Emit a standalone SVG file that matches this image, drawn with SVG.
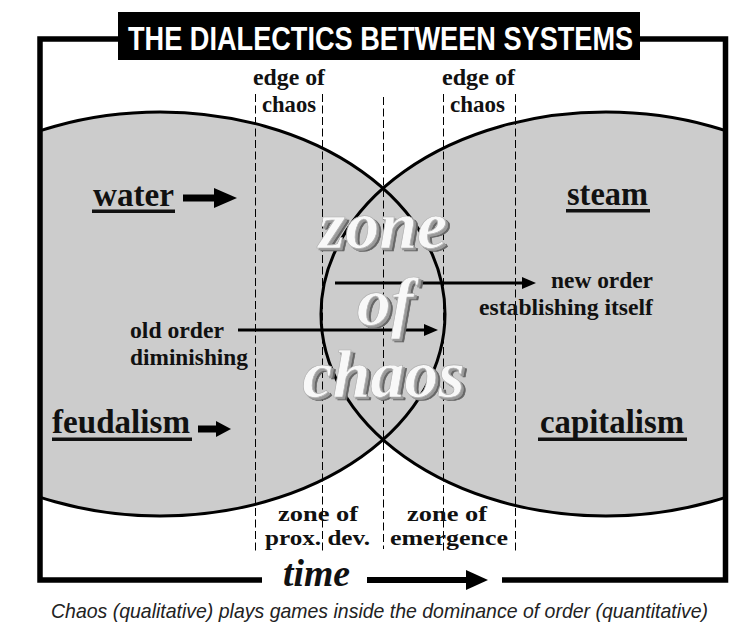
<svg xmlns="http://www.w3.org/2000/svg" width="752" height="630" viewBox="0 0 752 630">
<style>
.serif{font-family:"Liberation Serif","Times New Roman",serif;font-weight:bold;fill:#111}
.lbl{font-size:23px}
.zl{font-size:22px}
.big{font-size:34px}
.mid{font-size:23px}
.dash{stroke:#000;stroke-width:1;stroke-dasharray:8 3.5;fill:none}
.frame{stroke:#000;stroke-width:5.5;fill:none}
.zc{font-family:"Liberation Serif","Times New Roman",serif;font-weight:bold;font-style:italic;font-size:68px;text-anchor:middle}
</style>
<defs>
<clipPath id="inner"><rect x="40" y="39" width="686" height="541"/></clipPath>
<filter id="shade" x="-10%" y="-10%" width="130%" height="140%">
<feOffset in="SourceAlpha" dx="4" dy="3" result="o1"/>
<feFlood flood-color="#666666"/>
<feComposite in2="o1" operator="in" result="s1"/>
<feOffset in="SourceAlpha" dx="2" dy="1.5" result="o2"/>
<feFlood flood-color="#9a9a9a"/>
<feComposite in2="o2" operator="in" result="s2"/>
<feMerge><feMergeNode in="s1"/><feMergeNode in="s2"/><feMergeNode in="SourceGraphic"/></feMerge>
</filter>
</defs>
<rect width="752" height="630" fill="#fff"/>
<g id="systems" clip-path="url(#inner)">
<ellipse cx="160" cy="314" rx="285" ry="202" fill="#cccccc"/>
<ellipse cx="606" cy="314" rx="285" ry="202" fill="#cccccc"/>
<ellipse cx="160" cy="314" rx="285" ry="202" fill="none" stroke="#000" stroke-width="3"/>
<ellipse cx="606" cy="314" rx="285" ry="202" fill="none" stroke="#000" stroke-width="3"/>
</g>
<g id="dashed-lines">
<line class="dash" x1="255.5" y1="94" x2="255.5" y2="551"/>
<line class="dash" x1="322.5" y1="94" x2="322.5" y2="551"/>
<line class="dash" x1="383.5" y1="97" x2="383.5" y2="549"/>
<line class="dash" x1="443.5" y1="94" x2="443.5" y2="551"/>
<line class="dash" x1="515.5" y1="94" x2="515.5" y2="554"/>
</g>
<g id="frame">
<path class="frame" d="M118 39 H40 V580 H262"/>
<path class="frame" d="M640 39 H725.5 V580 H502"/>
</g>
<g id="title">
<rect x="118" y="12" width="522" height="48" fill="#000"/>
<g transform="translate(128,50) scale(0.798,1)">
<text x="0" y="0" font-family="'Liberation Sans',Arial,sans-serif" font-weight="bold" font-size="34" fill="#fff" textLength="633" lengthAdjust="spacingAndGlyphs">THE DIALECTICS BETWEEN SYSTEMS</text>
</g>
</g>
<g id="edge-left">
<text class="serif lbl" x="253" y="85" textLength="72" lengthAdjust="spacingAndGlyphs">edge of</text>
<text class="serif lbl" x="262" y="112" textLength="54" lengthAdjust="spacingAndGlyphs">chaos</text>
</g>
<g id="edge-right">
<text class="serif lbl" x="442" y="85" textLength="73" lengthAdjust="spacingAndGlyphs">edge of</text>
<text class="serif lbl" x="450" y="112" textLength="55" lengthAdjust="spacingAndGlyphs">chaos</text>
</g>
<g id="water">
<text class="serif big" x="93" y="206" textLength="81" lengthAdjust="spacingAndGlyphs">water</text>
<rect x="92" y="209.5" width="83" height="3.5" fill="#111"/>
</g>
<g id="steam">
<text class="serif big" x="567" y="205" textLength="81" lengthAdjust="spacingAndGlyphs">steam</text>
<rect x="566" y="209" width="84" height="3.5" fill="#111"/>
</g>
<g id="feudalism">
<text class="serif big" x="52" y="433" textLength="138" lengthAdjust="spacingAndGlyphs">feudalism</text>
<rect x="52" y="437.5" width="140" height="3.5" fill="#111"/>
</g>
<g id="capitalism">
<text class="serif big" x="540" y="433" textLength="144" lengthAdjust="spacingAndGlyphs">capitalism</text>
<rect x="538" y="437.5" width="149" height="3.5" fill="#111"/>
</g>
<g id="old-order">
<text class="serif mid" x="130" y="338" textLength="94" lengthAdjust="spacingAndGlyphs">old order</text>
<text class="serif mid" x="130" y="365" textLength="118" lengthAdjust="spacingAndGlyphs">diminishing</text>
</g>
<g id="new-order">
<text class="serif mid" x="551" y="288" textLength="102" lengthAdjust="spacingAndGlyphs">new order</text>
<text class="serif mid" x="479" y="315" textLength="174" lengthAdjust="spacingAndGlyphs">establishing itself</text>
</g>
<g id="zone-prox">
<text class="serif zl" x="278" y="521" textLength="80" lengthAdjust="spacingAndGlyphs">zone of</text>
<text class="serif zl" x="265" y="545" textLength="105" lengthAdjust="spacingAndGlyphs">prox. dev.</text>
</g>
<g id="zone-emergence">
<text class="serif zl" x="407" y="521" textLength="80" lengthAdjust="spacingAndGlyphs">zone of</text>
<text class="serif zl" x="390" y="545" textLength="118" lengthAdjust="spacingAndGlyphs">emergence</text>
</g>
<g id="connectors" fill="#000">
<line x1="183" y1="198" x2="217" y2="198" stroke="#000" stroke-width="7"/>
<polygon points="214,188 237,198 214,208"/>
<line x1="198" y1="429" x2="218" y2="429" stroke="#000" stroke-width="7"/>
<polygon points="216,421 231,429 216,437"/>
<line x1="335" y1="283" x2="524" y2="283" stroke="#000" stroke-width="3"/>
<polygon points="522,277 536,283 522,289"/>
<line x1="238" y1="330" x2="426" y2="330" stroke="#000" stroke-width="3"/>
<polygon points="424,324 438,330 424,336"/>
<line x1="367" y1="580" x2="469" y2="580" stroke="#000" stroke-width="6"/>
<polygon points="466,570 488,580 466,590"/>
</g>
<g id="zone-of-chaos" filter="url(#shade)" fill="#f8f8f8" stroke="#b0b0b0" stroke-width="0.7">
<text class="zc" x="383" y="248">zone</text>
<text class="zc" x="385" y="325">of</text>
<text class="zc" x="383.5" y="397">chaos</text>
</g>
<g id="time">
<text x="283" y="586" font-family="'Liberation Serif','Times New Roman',serif" font-weight="bold" font-style="italic" font-size="38" fill="#111" textLength="67" lengthAdjust="spacingAndGlyphs">time</text>
</g>
<g id="caption">
<g transform="translate(51,618) scale(0.928,1)">
<text x="0" y="0" font-family="'Liberation Sans',Arial,sans-serif" font-style="italic" font-size="21" fill="#222" textLength="708" lengthAdjust="spacingAndGlyphs">Chaos (qualitative) plays games inside the dominance of order (quantitative)</text>
</g>
</g>
</svg>
